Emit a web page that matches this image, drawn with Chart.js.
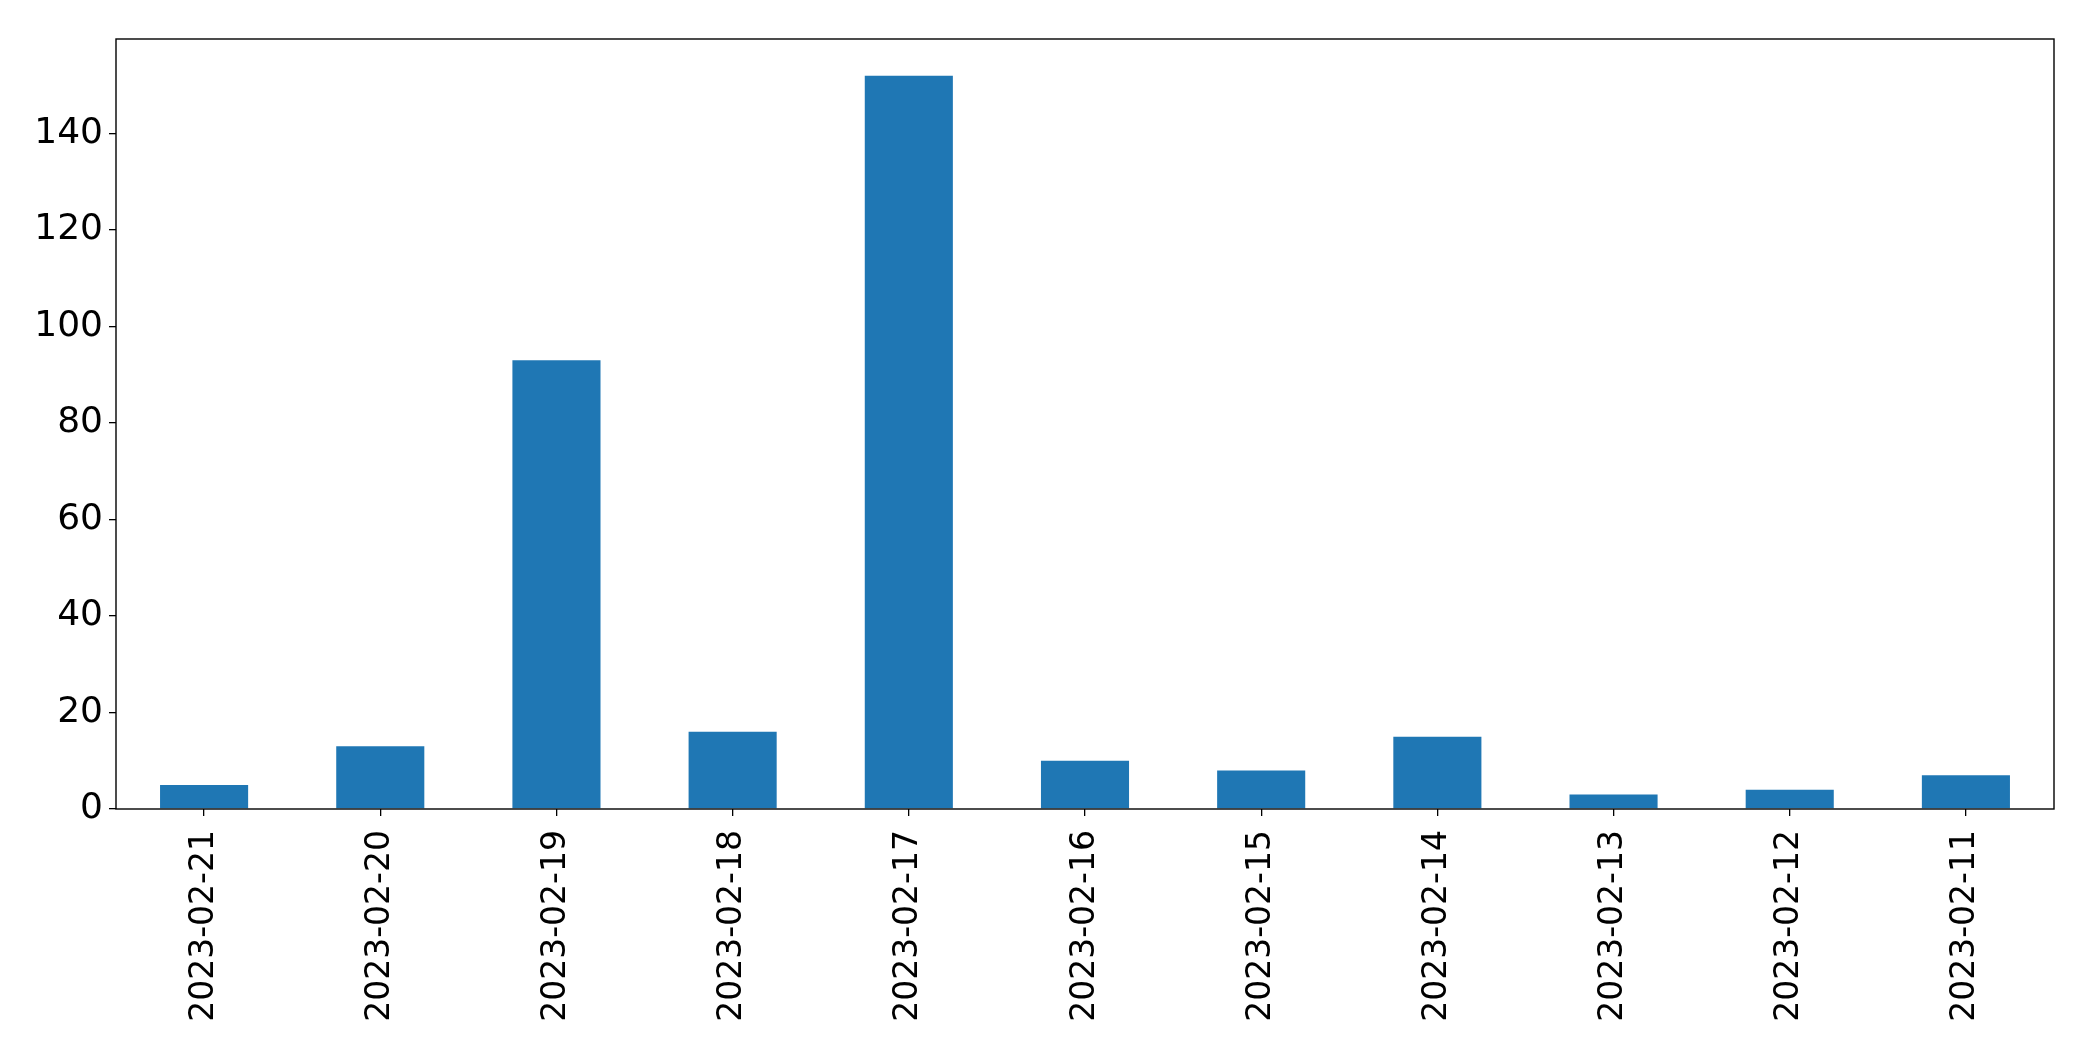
<!DOCTYPE html>
<html>
<head>
<meta charset="utf-8">
<script src="https://cdn.jsdelivr.net/npm/chart.js@4.4.0/dist/chart.umd.min.js"></script>
<style>
  html, body { margin: 0; padding: 0; background: #ffffff; }
  #wrap { width: 2093px; height: 1061px; }
</style>
</head>
<body>
<div id="wrap"><canvas id="c" width="2093" height="1061"></canvas></div>
<script>
const categories = ["2023-02-21","2023-02-20","2023-02-19","2023-02-18","2023-02-17","2023-02-16","2023-02-15","2023-02-14","2023-02-13","2023-02-12","2023-02-11"];
const counts = [5, 13, 93, 16, 152, 10, 8, 15, 3, 4, 7];
const yTicks = [0, 20, 40, 60, 80, 100, 120, 140];
const yMax = 159.6;

const frame = {
  id: 'frame',
  afterDraw(chart) {
    const a = chart.chartArea, ctx = chart.ctx;
    ctx.save();
    ctx.strokeStyle = '#000';
    ctx.lineWidth = 1.4;
    ctx.strokeRect(a.left, a.top, a.right - a.left, a.bottom - a.top);
    ctx.restore();
  }
};

new Chart(document.getElementById('c'), {
  type: 'bar',
  data: {
    labels: categories,
    datasets: [{
      data: counts,
      backgroundColor: '#1f77b4',
      borderWidth: 0,
      barPercentage: 0.5,
      categoryPercentage: 1.0
    }]
  },
  options: {
    responsive: false,
    animation: false,
    layout: { padding: { left: 0, right: 39, top: 39, bottom: 0 } },
    plugins: { legend: { display: false }, tooltip: { enabled: false } },
    scales: {
      x: {
        grid: { display: true, offset: false, drawOnChartArea: false, drawTicks: true, tickLength: 7, color: '#000', lineWidth: 1.3 },
        border: { display: false },
        ticks: {
          color: '#000', minRotation: 90, maxRotation: 90, autoSkip: false, padding: 14,
          font: { family: '"DejaVu Sans"', size: 33 }
        },
        afterFit(scale) { scale.height = 252; }
      },
      y: {
        min: 0, max: yMax,
        grid: { display: true, drawOnChartArea: false, drawTicks: true, tickLength: 7, color: '#000', lineWidth: 1.3 },
        border: { display: false },
        afterBuildTicks(scale) { scale.ticks = yTicks.map(v => ({ value: v })); },
        ticks: {
          color: '#000', padding: 6,
          font: { family: '"DejaVu Sans"', size: 36 }
        },
        afterFit(scale) { scale.width = 116; }
      }
    }
  },
  plugins: [frame]
});
</script>
</body>
</html>
